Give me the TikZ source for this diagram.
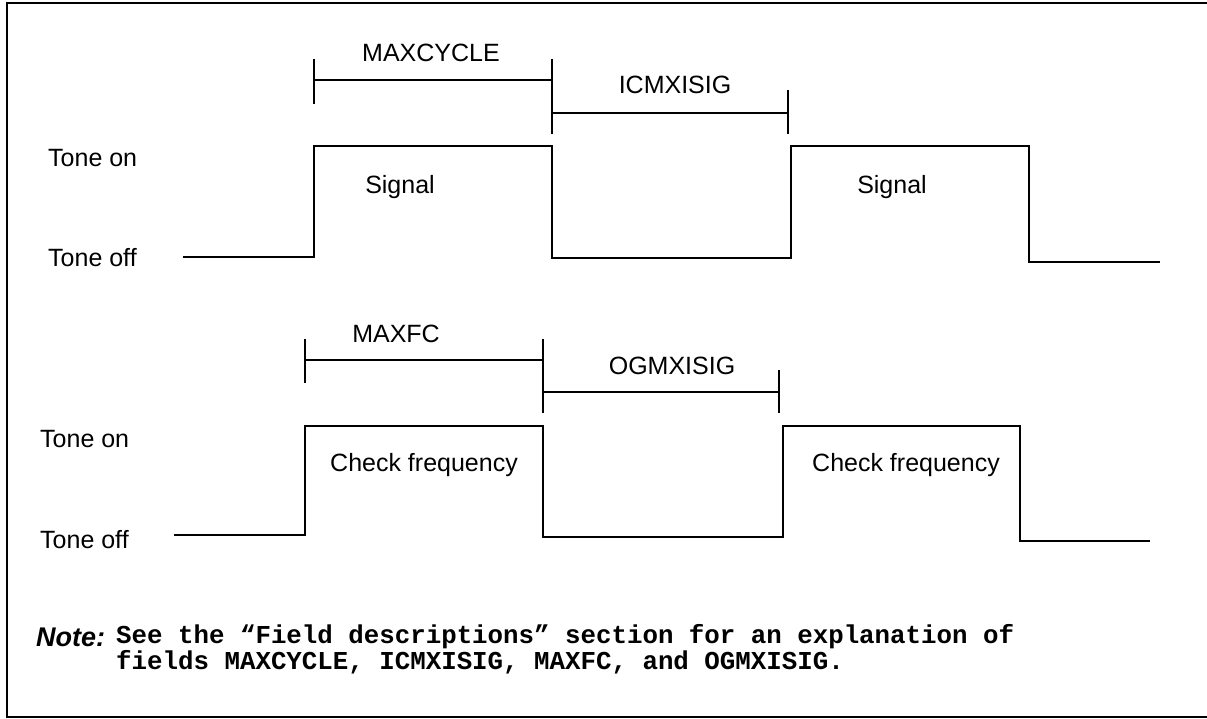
\documentclass[tikz,border=0pt]{standalone}
\usepackage{fontspec}
\setmainfont{Liberation Sans}
\newfontfamily\notemono{Liberation Mono}
\begin{document}
\begin{tikzpicture}[x=1pt,y=-1pt,
  lab/.style={font=\fontsize{25}{30}\selectfont, inner sep=0pt, anchor=base},
  side/.style={font=\fontsize{25}{30}\selectfont, inner sep=0pt, anchor=base west},
  wave/.style={line width=2.2pt, line join=miter},
  brk/.style={line width=1.8pt},
  frame/.style={line width=2.5pt},
  notelab/.style={font=\fontsize{27}{30}\selectfont\bfseries\itshape, inner sep=0pt, anchor=base west},
  notetxt/.style={font=\notemono\bfseries\fontsize{25.8}{23}\selectfont, inner sep=0pt, anchor=base west, align=left}]
\useasboundingbox (0,0) rectangle (1207,719);
\fill[white] (0,0) rectangle (1207,719);
% frame (open on the right)
\draw[frame] (1207,3) -- (7,3) -- (7,717) -- (1207,717);

% ---------- upper timing ----------
\node[side] (on1) at (48,167) {Tone on};
\node[side] (off1) at (48,267) {Tone off};
\draw[wave] (183,257) -- (314,257) -- (314,146) -- (552,146) -- (552,258)
  -- (791,258) -- (791,146) -- (1029,146) -- (1029,262) -- (1160,262);
\draw[brk] (314,59) -- (314,104);
\draw[brk] (314,80) -- (552,80);
\draw[brk] (552,59) -- (552,134);
\draw[brk] (552,113) -- (788,113);
\draw[brk] (788,90) -- (788,134);
\node[lab] (maxcycle) at (431,62) {MAXCYCLE};
\node[lab] (icmxisig) at (675,94) {ICMXISIG};
\node[lab] (sig1) at (400,194) {Signal};
\node[lab] (sig2) at (892,194) {Signal};

% ---------- lower timing ----------
\node[side] (on2) at (40,447) {Tone on};
\node[side] (off2) at (40,548) {Tone off};
\draw[wave] (174,535) -- (305,535) -- (305,426) -- (543,426) -- (543,537)
  -- (783,537) -- (783,426) -- (1020,426) -- (1020,541) -- (1150,541);
\draw[brk] (305,339) -- (305,383);
\draw[brk] (305,360) -- (543,360);
\draw[brk] (543,339) -- (543,413);
\draw[brk] (543,392) -- (779,392);
\draw[brk] (779,370) -- (779,413);
\node[lab] (maxfc) at (396,342) {MAXFC};
\node[lab] (ogmxisig) at (672,374) {OGMXISIG};
\node[lab] (cf1) at (424,471) {Check frequency};
\node[lab] (cf2) at (906,471) {Check frequency};

% ---------- note ----------
\node[notelab] (note) at (36,646) {Note:};
\node[notetxt] (notebody) at (116,669) {See the “Field descriptions” section for an explanation of\\fields MAXCYCLE, ICMXISIG, MAXFC, and OGMXISIG.};
\end{tikzpicture}
\end{document}
